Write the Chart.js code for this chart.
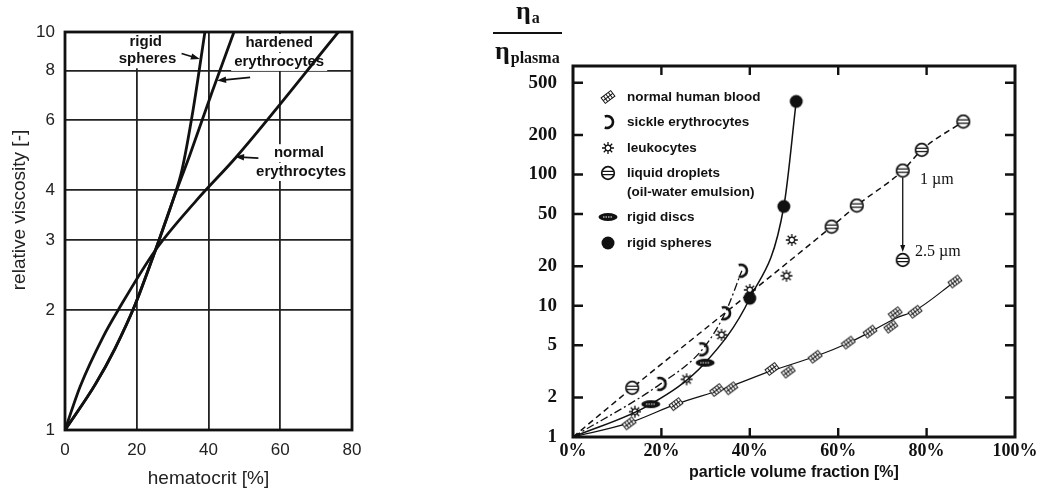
<!DOCTYPE html>
<html>
<head>
<meta charset="utf-8">
<script src="https://cdn.jsdelivr.net/npm/chart.js@4.4.1/dist/chart.umd.min.js"></script>
<style>
  html, body { margin: 0; padding: 0; background: #fff; }
  #wrapL { position: absolute; left: 0; top: 0; width: 430px; height: 492px; }
  #wrapR { position: absolute; left: 430px; top: 0; width: 621px; height: 492px; }
</style>
</head>
<body>
<div id="wrapL"><canvas id="left"></canvas></div>
<div id="wrapR"><canvas id="right"></canvas></div>
<script>
// ---- left panel: relative viscosity vs hematocrit ----
const hctTicks = [0, 20, 40, 60, 80];
const viscTicks = [1, 2, 3, 4, 6, 8, 10];

const hctNormal = [0, 4.2, 10.7, 14.8, 25.2, 36.7, 47.8, 76.2];
const viscNormal = [1, 1.285, 1.72, 2.0, 2.83, 3.78, 4.86, 10];
const hctHardened = [0, 8.4, 13.9, 19.5, 25.2, 30.1, 34.8, 41.0, 47.1];
const viscHardened = [1, 1.3, 1.6, 2.06, 2.83, 3.78, 4.91, 7.07, 10];
const hctRigid = [0, 8.4, 13.9, 19.5, 25.2, 30.1, 32.6, 35.7, 39.0];
const viscRigid = [1, 1.3, 1.6, 2.06, 2.83, 3.78, 4.5, 6.37, 10];

// ---- right panel: eta_a / eta_plasma vs particle volume fraction ----
const fracTicks = [0, 20, 40, 60, 80, 100];
const ratioTicks = [1, 2, 5, 10, 20, 50, 100, 200, 500];

const bloodX = [12.7, 23.3, 32.5, 35.7, 45, 48.7, 54.8, 62.3, 67.2, 71.9, 72.9, 77.4, 86.4];
const bloodY = [1.27, 1.78, 2.28, 2.35, 3.3, 3.15, 4.09, 5.24, 6.35, 6.93, 8.77, 9.0, 15.3];
const bloodFitX = [0, 12.7, 23.3, 34, 45, 54.8, 62.3, 67.2, 72.9, 77.4, 86.4];
const bloodFitY = [1, 1.28, 1.78, 2.32, 3.2, 4.1, 5.2, 6.3, 8.0, 9.2, 15.3];

const sickleX = [19.8, 29.3, 34.4, 38.2];
const sickleY = [2.54, 4.66, 8.77, 18.5];

const leukoX = [14.0, 25.7, 33.6, 40, 48.3, 49.5];
const leukoY = [1.56, 2.75, 6.0, 13.2, 16.9, 31.7];

const dropX = [13.4, 58.5, 64.2, 74.6, 78.9, 88.3];
const dropY = [2.37, 40, 58, 107, 154, 253];
const dropBigX = [74.6];
const dropBigY = [22.3];

const discX = [17.6, 29.9];
const discY = [1.78, 3.68];
const sphereX = [40, 47.7, 50.5];
const sphereY = [11.4, 57, 360];

const pts = (xs, ys) => xs.map((x, i) => ({ x: x, y: ys[i] }));
const withOrigin = (xs, ys) => pts([0].concat(xs), [1].concat(ys));

const SANS = 'Arial, "Liberation Sans", sans-serif';
const SERIF = '"Times New Roman", "Liberation Serif", serif';
const INK = '#111';

// little canvases used as point styles
function marker(w, h, draw) {
  const c = document.createElement('canvas');
  c.width = w; c.height = h;
  const g = c.getContext('2d');
  g.translate(w / 2, h / 2);
  g.strokeStyle = INK; g.fillStyle = INK;
  draw(g);
  return c;
}
const bloodMark = marker(16, 16, g => {
  g.rotate(-0.65);
  g.fillStyle = '#fff';
  g.fillRect(-6, -3.5, 12, 7);
  g.lineWidth = 1;
  g.strokeRect(-6, -3.5, 12, 7);
  g.beginPath();
  [-3, 0, 3].forEach(x => { g.moveTo(x, -3.5); g.lineTo(x, 3.5); });
  g.moveTo(-6, 0); g.lineTo(6, 0);
  g.stroke();
});
const sickleMark = marker(18, 18, g => {
  g.lineWidth = 2.6;
  g.beginPath();
  g.arc(-1, 0, 6, -0.62 * Math.PI, 0.62 * Math.PI);
  g.stroke();
});
const leukoMark = marker(16, 16, g => {
  g.lineWidth = 1.3;
  g.beginPath(); g.arc(0, 0, 2.8, 0, 2 * Math.PI); g.stroke();
  g.beginPath();
  for (let k = 0; k < 8; k++) {
    const a = k * Math.PI / 4;
    g.moveTo(2.8 * Math.cos(a), 2.8 * Math.sin(a));
    g.lineTo(6 * Math.cos(a), 6 * Math.sin(a));
  }
  g.stroke();
});
const dropMark = marker(16, 16, g => {
  g.fillStyle = '#fff';
  g.beginPath(); g.arc(0, 0, 6.3, 0, 2 * Math.PI); g.fill();
  g.lineWidth = 1.7; g.stroke();
  g.lineWidth = 1.3;
  g.beginPath();
  g.moveTo(-5.8, -1.7); g.lineTo(5.8, -1.7);
  g.moveTo(-5.8, 1.7); g.lineTo(5.8, 1.7);
  g.stroke();
});
const discMark = marker(22, 12, g => {
  g.beginPath(); g.ellipse(0, 0, 9.5, 4, 0, 0, 2 * Math.PI); g.fill();
  g.strokeStyle = '#fff'; g.lineWidth = 1; g.setLineDash([1.5, 1]);
  g.beginPath(); g.moveTo(-5, 0); g.lineTo(5, 0); g.stroke();
});
const sphereMark = marker(16, 16, g => {
  g.beginPath(); g.arc(0, 0, 6.5, 0, 2 * Math.PI); g.fill();
});

function arrow(ctx, x1, y1, x2, y2, head, width) {
  const a = Math.atan2(y2 - y1, x2 - x1);
  ctx.beginPath();
  ctx.moveTo(x1, y1);
  ctx.lineTo(x2 - head * 0.6 * Math.cos(a), y2 - head * 0.6 * Math.sin(a));
  ctx.stroke();
  ctx.beginPath();
  ctx.moveTo(x2, y2);
  ctx.lineTo(x2 - head * Math.cos(a) + width * Math.sin(a), y2 - head * Math.sin(a) - width * Math.cos(a));
  ctx.lineTo(x2 - head * Math.cos(a) - width * Math.sin(a), y2 - head * Math.sin(a) + width * Math.cos(a));
  ctx.closePath();
  ctx.fill();
}

// ---------------- left chart ----------------
const leftLabels = [
  { text: 'rigid', x: 22.5, y: 9.45 },
  { text: 'spheres', x: 23.0, y: 8.54 },
  { text: 'hardened', x: 59.7, y: 9.38 },
  { text: 'erythrocytes', x: 59.7, y: 8.41 },
  { text: 'normal', x: 65.2, y: 4.96 },
  { text: 'erythrocytes', x: 65.8, y: 4.45 }
];
const leftArrows = [
  { from: [32.5, 8.83], to: [37.6, 8.55] },
  { from: [51.6, 7.69], to: [42.4, 7.55] },
  { from: [53.9, 4.82], to: [47.4, 4.86] }
];

const leftDecor = {
  id: 'leftDecor',
  beforeDatasetsDraw(chart) {
    const { ctx, scales: { x, y } } = chart;
    ctx.save();
    ctx.font = 'bold 15px ' + SANS;
    ctx.fillStyle = '#fff';
    leftLabels.forEach(l => {
      const w = ctx.measureText(l.text).width;
      ctx.fillRect(x.getPixelForValue(l.x) - w / 2 - 3, y.getPixelForValue(l.y) - 9, w + 6, 18);
    });
    ctx.restore();
  },
  afterDatasetsDraw(chart) {
    const { ctx, chartArea: a, scales: { x, y } } = chart;
    ctx.save();
    ctx.strokeStyle = INK; ctx.fillStyle = INK;
    ctx.lineWidth = 2.8;
    ctx.strokeRect(a.left, a.top, a.right - a.left, a.bottom - a.top);

    ctx.font = 'bold 15px ' + SANS;
    ctx.textAlign = 'center'; ctx.textBaseline = 'middle';
    leftLabels.forEach(l => ctx.fillText(l.text, x.getPixelForValue(l.x), y.getPixelForValue(l.y)));

    ctx.lineWidth = 1.8;
    leftArrows.forEach(r => arrow(ctx,
      x.getPixelForValue(r.from[0]), y.getPixelForValue(r.from[1]),
      x.getPixelForValue(r.to[0]), y.getPixelForValue(r.to[1]), 9, 3.2));

    // y axis title
    ctx.font = '19px ' + SANS;
    ctx.fillStyle = '#222';
    ctx.translate(20, 210);
    ctx.rotate(-Math.PI / 2);
    ctx.fillText('relative viscosity [-]', 0, 0);
    ctx.restore();
  }
};

const curve = (data) => ({
  data: data,
  showLine: true,
  borderColor: INK,
  borderWidth: 2.8,
  pointRadius: 0,
  cubicInterpolationMode: 'monotone'
});

new Chart(document.getElementById('left'), {
  type: 'scatter',
  data: {
    datasets: [
      curve(pts(hctNormal, viscNormal)),
      curve(pts(hctHardened, viscHardened)),
      curve(pts(hctRigid, viscRigid))
    ]
  },
  options: {
    responsive: true,
    maintainAspectRatio: false,
    animation: false,
    events: [],
    layout: { padding: { top: 32, right: 78, left: 0, bottom: 0 } },
    plugins: { legend: { display: false }, tooltip: { enabled: false } },
    scales: {
      x: {
        type: 'linear', min: 0, max: 80,
        afterBuildTicks: s => { s.ticks = hctTicks.map(v => ({ value: v })); },
        afterFit: s => { s.height = 62; },
        grid: { color: '#222', lineWidth: 1.8, drawTicks: false },
        border: { display: false },
        ticks: { color: '#222', font: { family: SANS, size: 17 }, padding: 10, maxRotation: 0 },
        title: { display: true, text: 'hematocrit [%]', color: '#222', font: { family: SANS, size: 19 }, padding: { top: 0, bottom: 2 } }
      },
      y: {
        type: 'logarithmic', min: 1, max: 10,
        afterBuildTicks: s => { s.ticks = viscTicks.map(v => ({ value: v })); },
        afterFit: s => { s.width = 65; },
        grid: { color: '#222', lineWidth: 1.8, drawTicks: false },
        border: { display: false },
        ticks: { color: '#222', font: { family: SANS, size: 17 }, padding: 10, callback: v => String(v) }
      }
    }
  },
  plugins: [leftDecor]
});

// ---------------- right chart ----------------
const legendRows = [
  { mark: bloodMark, text: 'normal human blood', dy: 31 },
  { mark: sickleMark, text: 'sickle erythrocytes', dy: 56 },
  { mark: leukoMark, text: 'leukocytes', dy: 82 },
  { mark: dropMark, text: 'liquid droplets', dy: 107 },
  { mark: null, text: '(oil-water emulsion)', dy: 126 },
  { mark: discMark, text: 'rigid discs', dy: 151 },
  { mark: sphereMark, text: 'rigid spheres', dy: 177 }
];

const rightDecor = {
  id: 'rightDecor',
  afterDraw(chart) {
    const { ctx, chartArea: a, scales: { x, y } } = chart;
    ctx.save();
    ctx.strokeStyle = INK; ctx.fillStyle = INK;

    // inward tick marks on all four sides
    ctx.lineWidth = 2.4;
    ctx.beginPath();
    fracTicks.slice(1, -1).forEach(v => {
      const px = x.getPixelForValue(v);
      ctx.moveTo(px, a.bottom); ctx.lineTo(px, a.bottom - 9);
      ctx.moveTo(px, a.top); ctx.lineTo(px, a.top + 9);
    });
    ratioTicks.slice(1).forEach(v => {
      const py = y.getPixelForValue(v);
      ctx.moveTo(a.left, py); ctx.lineTo(a.left + 10, py);
      ctx.moveTo(a.right, py); ctx.lineTo(a.right - 10, py);
    });
    ctx.stroke();
    ctx.lineWidth = 3;
    ctx.strokeRect(a.left, a.top, a.right - a.left, a.bottom - a.top);

    // legend
    ctx.font = 'bold 13.5px ' + SANS;
    ctx.textAlign = 'left'; ctx.textBaseline = 'middle';
    legendRows.forEach(r => {
      if (r.mark) ctx.drawImage(r.mark, a.left + 35 - r.mark.width / 2, a.top + r.dy - r.mark.height / 2);
      ctx.fillText(r.text, a.left + 54, a.top + r.dy);
    });

    // 1 um -> 2.5 um arrow
    const ax = x.getPixelForValue(dropBigX[0]);
    ctx.lineWidth = 1.3;
    arrow(ctx, ax, y.getPixelForValue(dropY[3]) + 7, ax, y.getPixelForValue(dropBigY[0]) - 8, 7, 2.5);
    ctx.font = '16px ' + SERIF;
    ctx.fillText('1 \u00b5m', x.getPixelForValue(78.5), y.getPixelForValue(91));
    ctx.fillText('2.5 \u00b5m', x.getPixelForValue(77.4), y.getPixelForValue(25.7));

    // y axis title: eta_a / eta_plasma
    ctx.textBaseline = 'alphabetic';
    ctx.font = 'bold 26px ' + SERIF;
    const eta = ctx.measureText('\u03b7').width;
    ctx.fillText('\u03b7', 86, 19);
    ctx.fillText('\u03b7', 65, 59);
    ctx.font = 'bold 16px ' + SERIF;
    ctx.fillText('a', 86 + eta + 1, 23);
    ctx.fillText('plasma', 65 + eta + 1, 63);
    ctx.lineWidth = 2;
    ctx.beginPath(); ctx.moveTo(63, 33); ctx.lineTo(132, 33); ctx.stroke();
    ctx.restore();
  }
};

const line = (data, width, dash) => ({
  data: data, showLine: true, borderColor: INK, borderWidth: width, borderDash: dash,
  pointRadius: 0, order: 1, cubicInterpolationMode: 'monotone'
});
const marks = (data, img) => ({
  data: data, showLine: false, pointStyle: img, pointRadius: 5, order: 0
});

new Chart(document.getElementById('right'), {
  type: 'scatter',
  data: {
    datasets: [
      marks(pts(bloodX, bloodY), bloodMark),
      marks(pts(sickleX, sickleY), sickleMark),
      marks(pts(leukoX, leukoY), leukoMark),
      marks(pts(dropX, dropY), dropMark),
      marks(pts(dropBigX, dropBigY), dropMark),
      marks(pts(discX, discY), discMark),
      marks(pts(sphereX, sphereY), sphereMark),
      line(pts(bloodFitX, bloodFitY), 1.2, []),
      line(withOrigin(dropX, dropY), 1.5, [6, 4]),
      line(withOrigin(sickleX, sickleY), 1.3, [8, 3, 2, 3]),
      line(withOrigin(discX.concat(sphereX), discY.concat(sphereY)), 1.5, [])
    ]
  },
  options: {
    responsive: true,
    maintainAspectRatio: false,
    animation: false,
    events: [],
    layout: { padding: { top: 66, right: 36, left: 0, bottom: 0 } },
    plugins: { legend: { display: false }, tooltip: { enabled: false } },
    scales: {
      x: {
        type: 'linear', min: 0, max: 100,
        afterBuildTicks: s => { s.ticks = fracTicks.map(v => ({ value: v })); },
        afterFit: s => { s.height = 55; },
        grid: { display: false, drawTicks: false },
        border: { display: false },
        ticks: { color: INK, font: { family: SERIF, size: 18, weight: 'bold' }, padding: 4, maxRotation: 0, callback: v => v + '%' },
        title: { display: true, text: 'particle volume fraction [%]', color: INK, font: { family: SANS, size: 16, weight: 'bold' }, padding: { top: 0, bottom: 10 } }
      },
      y: {
        type: 'logarithmic', min: 1, max: 670,
        afterBuildTicks: s => { s.ticks = ratioTicks.map(v => ({ value: v })); },
        afterFit: s => { s.width = 143; },
        grid: { display: false, drawTicks: false },
        border: { display: false },
        ticks: { color: INK, font: { family: SERIF, size: 19, weight: 'bold' }, padding: 16, callback: v => String(v) }
      }
    }
  },
  plugins: [rightDecor]
});
</script>
</body>
</html>
